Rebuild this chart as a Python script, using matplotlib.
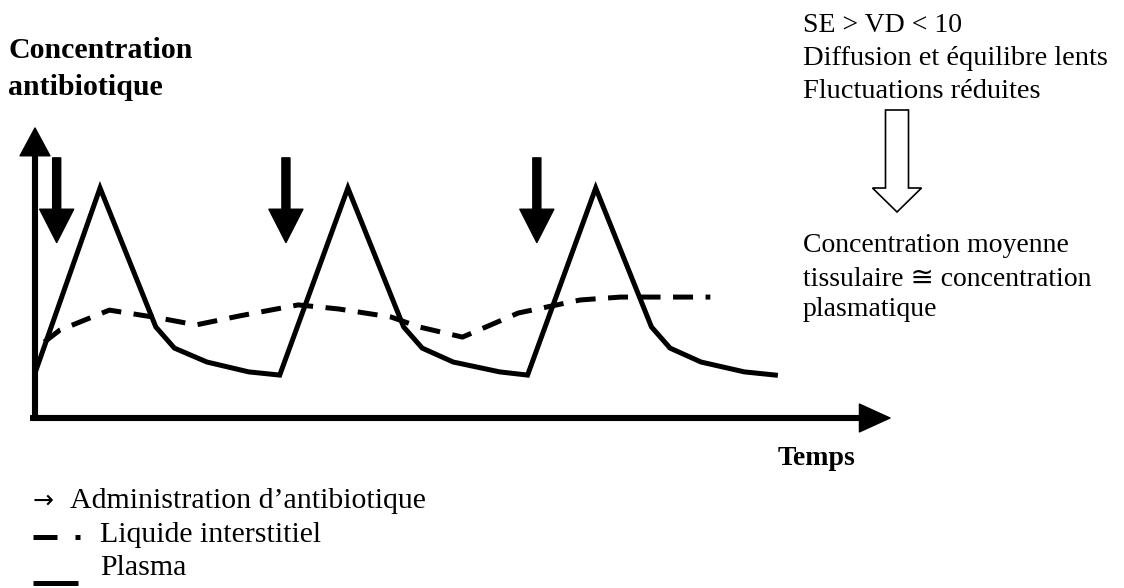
import matplotlib.pyplot as plt
from matplotlib.patches import FancyArrow

plt.rcParams['font.family'] = ['Liberation Serif', 'DejaVu Serif', 'DejaVu Sans']

# time in hours, concentration in arbitrary units (0-100)
plasma_t = [0, 2.1, 3.9, 4.5, 5.55, 6.9, 7.9,
            10.1, 11.9, 12.5, 13.5, 15.0, 15.9,
            18.1, 19.9, 20.5, 21.5, 22.9, 23.9]
plasma_c = [15.5, 79.3, 31.4, 24.1, 19.3, 15.9, 14.8,
            79.3, 31.4, 24.1, 19.3, 15.9, 14.8,
            79.3, 31.4, 24.1, 19.3, 15.9, 14.8]

inter_t = [0.3, 0.8, 2.4, 4.0, 5.2, 6.6, 8.5, 9.8, 11.5, 12.4, 13.8, 15.6, 17.6, 18.9, 21.8]
inter_c = [26.2, 30.3, 37.2, 34.5, 32.1, 35.2, 39.0, 37.6, 34.8, 31.4, 27.9, 36.2, 40.7, 41.7, 41.7]

dose_t = [0.7, 8.1, 16.2]
dose_top = 89.7
dose_tip = 60.5

t_max = 27.6
c_max = 100

W, H = 1124, 588
fig = plt.figure(figsize=(W / 100, H / 100), dpi=100)

# main plot area (pixels: x 35..890, y 418..128)
ax = fig.add_axes([35 / W, 1 - 418 / H, (890 - 35) / W, (418 - 128) / H])
ax.set_xlim(0, t_max)
ax.set_ylim(0, c_max)
ax.axis('off')

ax.plot(plasma_t, plasma_c, color='black', lw=3.6, solid_joinstyle='miter', clip_on=False)
ax.plot(inter_t, inter_c, color='black', lw=3.6, dashes=(4, 2.5), clip_on=False)

for t in dose_t:
    ax.annotate('', xy=(t, dose_tip), xytext=(t, dose_top),
                arrowprops=dict(width=5.8, headwidth=24.5, headlength=24,
                                shrink=0, facecolor='black', edgecolor='black'))

# axes arrows
ax.annotate('', xy=(0, 1), xytext=(0, -0.005), xycoords='axes fraction',
            arrowprops=dict(width=3.4, headwidth=21.5, headlength=20,
                            shrink=0, facecolor='black', edgecolor='black'))
ax.annotate('', xy=(1, 0), xytext=(-0.005, 0), xycoords='axes fraction',
            arrowprops=dict(width=3.4, headwidth=20, headlength=22,
                            shrink=0, facecolor='black', edgecolor='black'))

# overlay for text, in pixel coordinates
ov = fig.add_axes([0, 0, 1, 1], zorder=-1)
ov.set_xlim(0, W)
ov.set_ylim(H, 0)
ov.axis('off')

fs = 20
ov.text(8, 58, 'Concentration', fontsize=21.5, fontweight='bold', va='baseline')
ov.text(8, 95, 'antibiotique', fontsize=21.5, fontweight='bold', va='baseline')
ov.text(778, 465, 'Temps', fontsize=fs, fontweight='bold', va='baseline')

ov.text(803, 32, 'SE > VD < 10', fontsize=fs, va='baseline')
ov.text(803, 65, 'Diffusion et équilibre lents', fontsize=20.5, va='baseline')
ov.text(803, 98, 'Fluctuations réduites', fontsize=20.5, va='baseline')
ov.text(803, 252, 'Concentration moyenne', fontsize=fs, va='baseline')
ov.text(803, 286, 'tissulaire ≅ concentration', fontsize=fs, va='baseline')
ov.text(803, 316, 'plasmatique', fontsize=fs, va='baseline')

ov.add_patch(FancyArrow(897, 110, 0, 102, width=23, head_width=49, head_length=24,
                        length_includes_head=True, facecolor='white',
                        edgecolor='black', lw=1.2))

# legend
ls = 21.5
ov.text(33, 508, '→', fontsize=18, va='baseline', family=['DejaVu Sans'])
ov.text(70, 508, 'Administration d’antibiotique', fontsize=ls, va='baseline')
ov.plot([33, 57], [537, 537], color='black', lw=3.6, solid_capstyle='butt')
ov.plot([75, 80], [537, 537], color='black', lw=3.6, solid_capstyle='butt')
ov.text(100, 542, 'Liquide interstitiel', fontsize=ls, va='baseline')
ov.plot([33, 78], [583, 583], color='black', lw=3.6, solid_capstyle='butt')
ov.text(100, 575, 'Plasma', fontsize=ls, va='baseline')

fig.savefig('out.png', dpi=100)
